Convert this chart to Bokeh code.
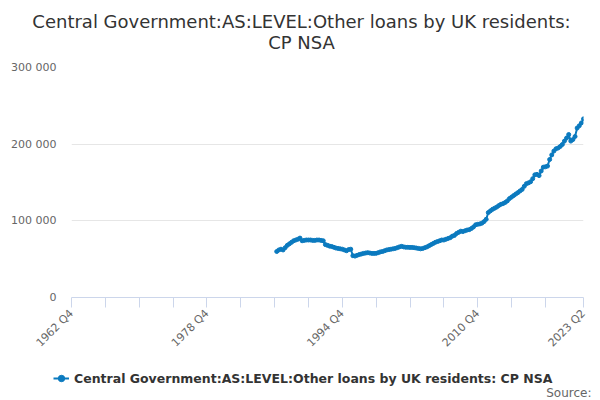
import math
from bokeh.plotting import figure
from bokeh.layouts import column
from bokeh.models import (Range1d, FixedTicker, Label, Legend, LegendItem,
                          ColumnDataSource)
from bokeh.embed import file_html
from bokeh.resources import INLINE

# ---- data ----
title_line1 = "Central Government:AS:LEVEL:Other loans by UK residents:"
title_line2 = "CP NSA"
series_name = "Central Government:AS:LEVEL:Other loans by UK residents: CP NSA"
source_text = "Source:"

first_year, first_q = 1962, 4
last_year, last_q = 2023, 2
data_start = "1987 Q1"

values = [
    60000, 62000, 63000, 62000,      # 1987
    65000, 68000, 70000, 72000,      # 1988
    74000, 75000, 76000, 77500,      # 1989
    74000, 74500, 75000, 75000,      # 1990
    75000, 74500, 74500, 75000,      # 1991
    75000, 74500, 74000, 69000,      # 1992
    68000, 67000, 66500, 65500,      # 1993
    64500, 64000, 63500, 63000,      # 1994
    62000, 61000, 62500, 63000,      # 1995
    54500, 54000, 55000, 56000,      # 1996
    56700, 57500, 58000, 58500,      # 1997
    58000, 57500, 57500, 57600,      # 1998
    58500, 59500, 60000, 61000,      # 1999
    62000, 62500, 63000, 63500,      # 2000
    64000, 65000, 66000, 66700,      # 2001
    66000, 65500, 65500, 65300,      # 2002
    65300, 65000, 64500, 64000,      # 2003
    63500, 64000, 65000, 66000,      # 2004
    67500, 69000, 70500, 72000,      # 2005
    73000, 74000, 75000, 75000,      # 2006
    76000, 77000, 78000, 80000,      # 2007
    81000, 83500, 85000, 86500,      # 2008
    86000, 87000, 88000, 88500,      # 2009
    90000, 92000, 94800, 95500,      # 2010
    96000, 97000, 99000, 102000,     # 2011
    110800, 113000, 115000, 116500,  # 2012
    118000, 120000, 121600, 122500,  # 2013
    124000, 126000, 129000, 131000,  # 2014
    133000, 135000, 136800, 139000,  # 2015
    141000, 145000, 148500, 149500,  # 2016
    151000, 155000, 160000, 160600,  # 2017
    159000, 165000, 170000, 170500,  # 2018
    171400, 180000, 186000, 191000,  # 2019
    194000, 195000, 197000, 199600,  # 2020
    204000, 208000, 212600, 204000,  # 2021
    206000, 210000, 221000, 224000,  # 2022
    227700, 233000,                  # 2023
]

y_ticks = [0, 100000, 200000, 300000]
y_tick_labels = ["0", "100 000", "200 000", "300 000"]
x_label_names = ["1962 Q4", "1978 Q4", "1994 Q4", "2010 Q4", "2023 Q2"]

# categories (quarter labels along the axis)
categories = []
y, q = first_year, first_q
while (y, q) <= (last_year, last_q):
    categories.append(f"{y} Q{q}")
    q += 1
    if q > 4:
        q = 1
        y += 1

start_idx = categories.index(data_start)
xs = [start_idx + i for i in range(len(values))]
src = ColumnDataSource(dict(x=xs, y=values))

last_idx = len(categories) - 1
tick_idx = list(range(0, last_idx - 16, 16)) + [last_idx]
overrides = {i: (categories[i] if categories[i] in x_label_names else "") for i in tick_idx}

font = "DejaVu Sans"
color = "#0b7abf"
W = 600
TOP_H, MAIN_H, BOT_H = 57, 300, 43


def blank_fig(h):
    f = figure(width=W, height=h, output_backend="svg", toolbar_location=None,
               x_range=Range1d(0, W), y_range=Range1d(h, 0),
               x_axis_type=None, y_axis_type=None,
               min_border_left=0, min_border_right=0, min_border_top=0,
               min_border_bottom=0)
    f.outline_line_color = None
    f.xgrid.visible = False
    f.ygrid.visible = False
    f.background_fill_color = "white"
    f.border_fill_color = "white"
    return f


# ---- title strip ----
top = blank_fig(TOP_H)
for txt, ty in ((title_line1, 21), (title_line2, 42)):
    top.add_layout(Label(x=301, y=ty, text=txt, text_align="center",
                         text_baseline="middle", text_font=font,
                         text_font_size="18px", text_color="#333333"))

# ---- main chart ----
p = figure(width=W, height=MAIN_H, output_backend="svg", toolbar_location=None,
           x_range=Range1d(0, last_idx), y_range=Range1d(0, 300000),
           min_border_left=71, min_border_right=17, min_border_top=10,
           min_border_bottom=60)
p.outline_line_color = None
p.background_fill_color = "white"
p.border_fill_color = "white"

ln = p.line("x", "y", source=src, line_color=color, line_width=2)
sc = p.scatter("x", "y", source=src, size=4, fill_color=color, line_color=color)

xa = p.xaxis[0]
xa.ticker = FixedTicker(ticks=tick_idx)
xa.major_label_overrides = overrides
xa.major_label_orientation = math.pi / 4
xa.axis_line_color = "#ccd6eb"
xa.major_tick_line_color = "#ccd6eb"
xa.major_tick_out = 10
xa.major_tick_in = 0
xa.minor_tick_line_color = None
xa.major_label_text_font = font
xa.major_label_text_font_size = "11px"
xa.major_label_text_color = "#666666"
xa.major_label_standoff = 4

ya = p.yaxis[0]
ya.ticker = FixedTicker(ticks=y_ticks)
ya.major_label_overrides = {t: l for t, l in zip(y_ticks, y_tick_labels)}
ya.axis_line_color = None
ya.major_tick_line_color = None
ya.minor_tick_line_color = None
ya.major_tick_out = 0
ya.major_tick_in = 0
ya.major_label_text_font = font
ya.major_label_text_font_size = "11px"
ya.major_label_text_color = "#666666"
ya.major_label_standoff = 15

p.xgrid.grid_line_color = None
p.ygrid.grid_line_color = "#e6e6e6"
p.ygrid.ticker = FixedTicker(ticks=y_ticks)

# ---- legend / source strip ----
bot = blank_fig(BOT_H)
nan = float("nan")
lg_ln = bot.line(x=[nan], y=[nan], line_color=color, line_width=2)
lg_sc = bot.scatter(x=[nan], y=[nan], size=4, fill_color=color, line_color=color)
legend = Legend(items=[LegendItem(label=series_name, renderers=[lg_ln, lg_sc])],
                location=(53, 14),
                glyph_width=16, glyph_height=16, label_height=16,
                label_standoff=5, padding=0, margin=0, spacing=0,
                border_line_color=None, background_fill_alpha=0,
                label_text_font=font, label_text_font_size="12.5px",
                label_text_font_style="bold", label_text_color="#333333")
bot.add_layout(legend, "center")
bot.add_layout(Label(x=591, y=35, text=source_text, text_align="right",
                     text_baseline="middle", text_font=font,
                     text_font_size="12px", text_color="#666666"))

layout = column(column(top, spacing=0), p, column(bot, spacing=0), spacing=0)
open("out.html", "w").write(file_html(layout, INLINE))
